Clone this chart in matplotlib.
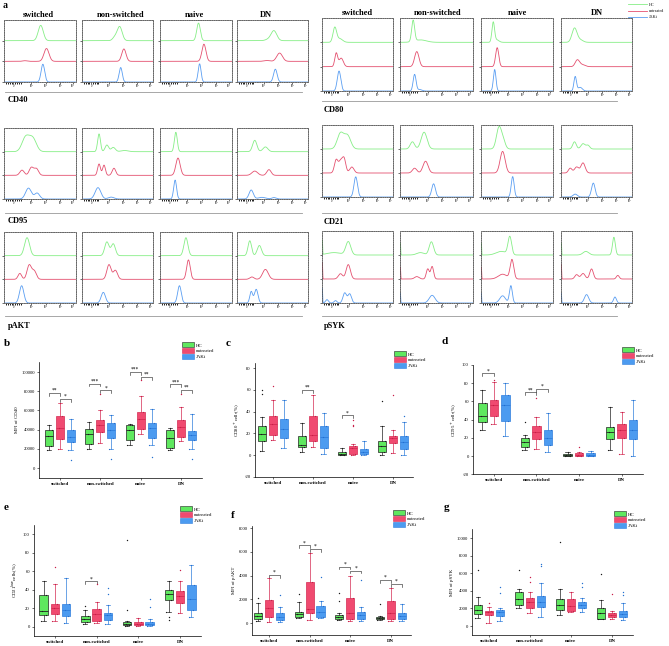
import numpy as np
import matplotlib
matplotlib.use('Agg')
import matplotlib.pyplot as plt
from matplotlib.patches import Patch
from matplotlib.lines import Line2D

plt.rcParams['font.family'] = ['Liberation Serif', 'DejaVu Serif']

W, H = 669, 646

subsets = ['switched', 'non-switched', 'naive', 'DN']
groups = ['HC', 'untreated', 'JAKi']

# ---- histogram peaks: (centre, height, width) per curve, order HC, untreated, JAKi
peaks_cd40 = [
    [[(0.51, 0.74, 0.035)], [(0.59, 0.62, 0.035), (0.29, 0.03, 0.03)], [(0.54, 0.86, 0.025)]],
    [[(0.53, 0.68, 0.035), (0.46, 0.15, 0.03)], [(0.59, 0.6, 0.03)], [(0.545, 0.7, 0.022)]],
    [[(0.535, 0.85, 0.025)], [(0.61, 0.83, 0.028)], [(0.55, 0.88, 0.02)]],
    [[(0.52, 0.48, 0.04), (0.44, 0.06, 0.04)], [(0.6, 0.4, 0.04), (0.42, 0.04, 0.04)], [(0.54, 0.62, 0.025)]],
]
peaks_cd95 = [
    [[(0.3, 0.6, 0.05), (0.4, 0.55, 0.05)], [(0.25, 0.22, 0.03), (0.38, 0.33, 0.03), (0.45, 0.28, 0.03)],
     [(0.34, 0.46, 0.04), (0.46, 0.25, 0.035)]],
    [[(0.24, 0.75, 0.02), (0.35, 0.28, 0.025), (0.44, 0.18, 0.03), (0.6, 0.05, 0.05)],
     [(0.24, 0.48, 0.02), (0.31, 0.43, 0.02), (0.45, 0.3, 0.025)], [(0.225, 0.48, 0.04), (0.41, 0.08, 0.04)]],
    [[(0.22, 0.82, 0.02)], [(0.25, 0.73, 0.03)], [(0.21, 0.8, 0.02)]],
    [[(0.25, 0.48, 0.03), (0.4, 0.2, 0.035)], [(0.25, 0.18, 0.04), (0.45, 0.24, 0.03)],
     [(0.2, 0.38, 0.03), (0.35, 0.07, 0.05), (0.52, 0.06, 0.03)]],
]
peaks_pakt = [
    [[(0.32, 0.76, 0.035)], [(0.22, 0.25, 0.025), (0.35, 0.6, 0.03), (0.42, 0.35, 0.03)], [(0.245, 0.73, 0.03)]],
    [[(0.35, 0.58, 0.03), (0.44, 0.5, 0.03)], [(0.38, 0.62, 0.03), (0.47, 0.38, 0.03)], [(0.3, 0.45, 0.03)]],
    [[(0.36, 0.76, 0.028)], [(0.395, 0.82, 0.025)], [(0.27, 0.73, 0.025)]],
    [[(0.18, 0.63, 0.025), (0.315, 0.43, 0.03)], [(0.21, 0.1, 0.03), (0.4, 0.42, 0.04)],
     [(0.2, 0.48, 0.02), (0.27, 0.58, 0.025)]],
]
peaks_cd80 = [
    [[(0.18, 0.6, 0.025), (0.25, 0.15, 0.04)], [(0.2, 0.55, 0.02), (0.27, 0.35, 0.03)], [(0.24, 0.82, 0.025)]],
    [[(0.18, 0.87, 0.02), (0.28, 0.1, 0.08)], [(0.23, 0.62, 0.03)], [(0.2, 0.68, 0.02), (0.27, 0.06, 0.03)]],
    [[(0.17, 0.82, 0.018), (0.22, 0.1, 0.03)], [(0.225, 0.78, 0.022)], [(0.19, 0.88, 0.018)]],
    [[(0.19, 0.58, 0.035), (0.27, 0.1, 0.04)], [(0.23, 0.27, 0.03), (0.3, 0.08, 0.04)],
     [(0.2, 0.59, 0.018), (0.27, 0.15, 0.03)]],
]
peaks_cd21 = [
    [[(0.26, 0.65, 0.045), (0.36, 0.55, 0.045)], [(0.2, 0.55, 0.025), (0.26, 0.45, 0.025), (0.31, 0.6, 0.025),
                                                  (0.42, 0.25, 0.03)], [(0.475, 0.84, 0.025)]],
    [[(0.17, 0.3, 0.03), (0.33, 0.7, 0.04)], [(0.2, 0.2, 0.03), (0.35, 0.49, 0.035)], [(0.46, 0.55, 0.025)]],
    [[(0.25, 0.9, 0.035), (0.31, 0.3, 0.03)], [(0.3, 0.9, 0.035)], [(0.44, 0.85, 0.02)]],
    [[(0.19, 0.3, 0.025), (0.31, 0.22, 0.03), (0.38, 0.15, 0.025)],
     [(0.13, 0.2, 0.025), (0.22, 0.25, 0.03), (0.31, 0.42, 0.03)], [(0.2, 0.12, 0.03), (0.455, 0.58, 0.025)]],
]
peaks_psyk = [
    [[(0.005, 0.6, 0.004), (0.17, 0.1, 0.1), (0.37, 0.55, 0.035)],
     [(0.005, 0.7, 0.004), (0.26, 0.22, 0.03), (0.37, 0.6, 0.03)],
     [(0.005, 0.6, 0.004), (0.07, 0.14, 0.02), (0.19, 0.1, 0.02), (0.32, 0.42, 0.025), (0.39, 0.38, 0.025)]],
    [[(0.005, 0.5, 0.004), (0.28, 0.1, 0.05), (0.43, 0.55, 0.03)],
     [(0.005, 0.5, 0.004), (0.23, 0.1, 0.03), (0.38, 0.42, 0.02), (0.44, 0.52, 0.02)],
     [(0.005, 0.4, 0.004), (0.44, 0.32, 0.04)]],
    [[(0.005, 0.5, 0.004), (0.28, 0.15, 0.07), (0.4, 0.75, 0.025)],
     [(0.005, 0.5, 0.004), (0.3, 0.2, 0.06), (0.43, 0.8, 0.025)],
     [(0.005, 0.4, 0.004), (0.3, 0.3, 0.04), (0.415, 0.72, 0.02)]],
    [[(0.005, 0.5, 0.004), (0.35, 0.15, 0.04), (0.745, 0.74, 0.02)],
     [(0.005, 0.6, 0.004), (0.22, 0.18, 0.025), (0.31, 0.23, 0.03), (0.43, 0.42, 0.025), (0.8, 0.15, 0.02)],
     [(0.005, 0.4, 0.004), (0.36, 0.35, 0.03), (0.76, 0.25, 0.02)]],
]

# ---- box panels: (whisker low, q1, median, q3, whisker high) per subset x group
b_stats = [
    [(18400, 23300, 33000, 40000, 44500), (20200, 30300, 41700, 54000, 67800), (18400, 26800, 32300, 40000, 51500)],
    [(20200, 25400, 35800, 40300, 48000), (26400, 37200, 44500, 50400, 60000), (20200, 31700, 39300, 47300, 55000)],
    [(23700, 29600, 40000, 44500, 45600), (35800, 41000, 51500, 58400, 74800), (23700, 31700, 42000, 47300, 61900)],
    [(18400, 21200, 31700, 39300, 42000), (27800, 32300, 42800, 50400, 63700), (19500, 29600, 34100, 38300, 56700)],
]
b_out = [(0, 2, 8000), (1, 1, 77000), (1, 2, 9700), (2, 1, 92000), (2, 2, 11000), (3, 1, 77500), (3, 2, 9700)]
b_sig = [(0, 0, 1, 78000, '**'), (0, 1, 2, 72000, '*'), (1, 0, 1, 88000, '***'), (1, 1, 2, 81000, '*'),
         (2, 0, 1, 100000, '***'), (2, 1, 2, 95000, '**'), (3, 0, 1, 87000, '***'), (3, 1, 2, 81500, '**')]

c_stats = [
    [(3.4, 12.6, 19.7, 27, 35), (14, 18.8, 29, 36.3, 51), (6.5, 15.7, 24, 33.5, 51)],
    [(2.8, 7.4, 9.5, 17.8, 29.5), (7.4, 12.6, 18.8, 36.3, 55.7), (1, 6.5, 16.6, 27, 38.8)],
    [(0, 0, 1.2, 3, 6.5), (0.3, 1.2, 6.5, 8, 10.5), (0, 0.6, 2.5, 5.8, 12.6)],
    [(0, 2.5, 8, 12.6, 26.5), (1.8, 11, 15.7, 17.8, 23.4), (0, 5.8, 11.7, 17.8, 30)],
]
c_out = [(0, 0, 60), (0, 0, 56), (0, 1, 64), (2, 1, 28), (2, 1, 26.5), (2, 1, 32.6), (3, 0, 50), (3, 1, 55.7),
         (3, 2, 35.7)]
c_sig = [(1, 0, 1, 60, '**'), (2, 0, 1, 36.6, '*')]

d_stats = [
    [(28.6, 37.8, 44, 58, 72), (34.9, 44, 56, 61.7, 81.8), (22, 39, 56, 67, 80)],
    [(6.6, 10.3, 15.8, 19.4, 23), (7.3, 18.3, 26.8, 33, 42.6), (4.8, 12, 19.4, 28.6, 47)],
    [(0, 0, 1.1, 2.2, 4.8), (0, 0, 1.5, 3.7, 4.8), (0, 0, 1.5, 3.7, 5.5)],
    [(6.6, 18.3, 26.8, 32.3, 53.6), (2.2, 19.4, 28.6, 34.9, 48.8), (0, 18.3, 28.6, 39.6, 61.7)],
]
d_out = [(0, 1, 84), (1, 0, 37.8), (1, 1, 63.5), (2, 1, 9.5)]
d_sig = [(0, 0, 1, 91, '*'), (1, 0, 1, 70, '**'), (1, 1, 2, 73.8, '*')]

e_stats = [
    [(6, 12.6, 16.8, 34, 49), (6, 14, 20, 25, 46), (4.3, 12, 18, 25, 53)],
    [(3.6, 5.4, 8.6, 12.3, 18), (4.3, 6.8, 14.4, 19.8, 27), (3.2, 7.2, 12.6, 15.5, 24)],
    [(0.7, 1.8, 3.2, 5, 6), (0.7, 1.8, 3.6, 5.4, 9.7), (0.7, 1.8, 3.6, 5.8, 8.6)],
    [(15.8, 28.8, 35, 39.6, 49), (15, 26, 33, 39, 49), (10.8, 18, 30.6, 45, 66.7)],
]
e_out = [(0, 1, 65), (1, 0, 23), (1, 1, 45.8), (1, 2, 42), (1, 2, 35), (2, 0, 94), (2, 0, 18), (2, 2, 30.6),
         (2, 2, 22), (3, 0, 10.5), (3, 0, 8), (3, 1, 61)]
e_sig = [(1, 0, 1, 49, '*')]

f_stats = [
    [(200, 340, 645, 840, 1680), (110, 560, 1260, 1960, 3840), (140, 280, 560, 840, 1400)],
    [(420, 560, 785, 980, 1820), (280, 840, 1180, 3500, 5890), (420, 560, 980, 1460, 1880)],
    [(280, 365, 560, 700, 840), (225, 365, 840, 2100, 3980), (200, 365, 700, 980, 1350)],
    [(280, 365, 480, 560, 620), (225, 365, 840, 1900, 3000), (200, 365, 620, 900, 1600)],
]
f_out = [(0, 0, 2100), (0, 2, 2380), (1, 0, 2470), (1, 2, 3930), (2, 0, 2580), (2, 0, 1900), (2, 2, 3650),
         (3, 0, 1630)]
f_sig = [(0, 1, 2, 4070, '*'), (1, 0, 1, 6560, '*'), (1, 1, 2, 6230, '*'), (2, 0, 1, 4770, '*'),
         (2, 1, 2, 4430, '*'), (3, 0, 1, 3650, '*'), (3, 1, 2, 3310, '*')]

g_stats = [
    [(870, 1360, 1810, 2380, 3250), (300, 1250, 1550, 1740, 2110), (570, 1170, 1550, 1810, 2080)],
    [(2000, 2380, 3020, 3890, 4260), (1510, 2000, 2680, 3210, 3890), (1060, 2190, 2750, 3400, 4830)],
    [(1250, 1810, 2380, 3020, 4260), (1620, 1740, 2300, 3020, 3890), (1550, 2000, 2380, 2680, 3130)],
    [(790, 790, 1430, 2080, 2940), (750, 980, 1250, 1510, 1740), (680, 980, 1360, 1740, 2570)],
]
g_out = [(0, 0, 6400), (0, 1, 2640), (0, 2, 4450), (0, 2, 3700), (1, 0, 6340), (1, 1, 5580), (1, 1, 5020),
         (1, 2, 7090), (1, 2, 6790), (2, 0, 9550), (2, 2, 4830), (2, 2, 4450), (3, 0, 5960), (3, 1, 3620),
         (3, 2, 3890), (3, 2, 3510)]
g_sig = []

hist_col = ['#86EE86', '#E4506F', '#5A9EF2']
box_face = ['#5FE85F', '#F04A70', '#4C9BF0']
box_edge = ['#222222', '#D42A52', '#2F7EDC']
dot_col = ['#1A1A1A', '#C81E48', '#2470D0']

fig = plt.figure(figsize=(W / 100, H / 100), dpi=100)


def px_axes(x0, y0, x1, y1):
    return fig.add_axes([x0 / W, 1 - y1 / H, (x1 - x0) / W, (y1 - y0) / H])


def px_text(x, y, s, **kw):
    fig.text(x / W, 1 - y / H, s, **kw)


# ---------------- panel a: histograms ----------------
xs = np.linspace(0, 1, 400)


def curve(peaks):
    y = np.zeros_like(xs)
    for c, h, s in peaks:
        y += h * np.exp(-0.5 * ((xs - c) / s) ** 2)
    return y


def hist_box(rect, peaks, ylow=0.0):
    ax = px_axes(*rect)
    for gi, base in enumerate([2, 1, 0]):
        ax.plot(xs, base + curve(peaks[gi]), color=hist_col[gi], lw=0.6)
    ax.set_xlim(0, 1)
    ax.set_ylim(ylow, 3)
    ax.set_yticks([0, 1, 2])
    ax.set_yticklabels([])
    ax.set_xticks([0.13, 0.38, 0.58, 0.78, 0.96])
    ax.set_xticklabels(['0', '10³', '10⁴', '10⁵', '10⁶'], fontsize=2)
    ax.set_xticks(np.arange(0.03, 0.25, 0.025), minor=True)
    ax.tick_params(axis='both', length=1.2, width=0.4, pad=0.3, direction='out')
    ax.tick_params(axis='x', which='minor', length=1.2, width=0.6)
    for sp in ax.spines.values():
        sp.set_linewidth(0.5)
        sp.set_color('#555555')
        sp.set_linestyle((0, (2, 0.6)))


left_x = [(4, 76), (82, 153), (160, 232), (237, 308)]
right_x = [(322, 393), (400, 473), (481, 553), (561, 632)]
left_rows = [((20, 82), 0.42, peaks_cd40), ((128, 199), 0.0, peaks_cd95), ((232, 303), 0.0, peaks_pakt)]
right_rows = [((18, 91), 0.0, peaks_cd80), ((125, 197), 0.0, peaks_cd21), ((231, 303), 0.0, peaks_psyk)]

for (y0, y1), ylow, pk in left_rows:
    for si, (x0, x1) in enumerate(left_x):
        hist_box((x0, y0, x1, y1), pk[si], ylow)
for (y0, y1), ylow, pk in right_rows:
    for si, (x0, x1) in enumerate(right_x):
        hist_box((x0, y0, x1, y1), pk[si], ylow)

title_kw = dict(fontsize=6, fontweight='bold', ha='center', va='center')
for si, xc in enumerate([38, 121, 194, 266]):
    px_text(xc, 15, subsets[si], **title_kw)
for si, xc in enumerate([357, 438, 517, 597]):
    px_text(xc, 13, subsets[si], **title_kw)

lab_kw = dict(fontsize=6, fontweight='bold', ha='left', va='center')
for name, y in [('CD40', 100), ('CD95', 221), ('pAKT', 326)]:
    px_text(8, y, name, **lab_kw)
for name, y in [('CD80', 110), ('CD21', 222), ('pSYK', 326)]:
    px_text(324, y, name, **lab_kw)

for y, xa, xb in [(92, 5, 302), (213, 5, 302), (316, 5, 302), (101, 322, 617), (213, 322, 617), (316, 322, 617)]:
    fig.add_artist(Line2D([xa / W, xb / W], [1 - y / H, 1 - y / H], color='#999999', lw=0.6))

px_text(3, 5, 'a', fontsize=7, fontweight='bold', ha='left', va='center')

fig.legend(handles=[Line2D([], [], color=hist_col[i], lw=0.6) for i in range(3)], labels=groups,
           loc='upper left', bbox_to_anchor=(625 / W, 1 - 0 / H), frameon=False, fontsize=3,
           handlelength=4.5, handletextpad=0.6, labelspacing=0.5, borderpad=0.2)

# ---------------- panels b-g: box plots ----------------
offs = [-0.27, 0.0, 0.27]
jit = [-0.06, 0.05, -0.03, 0.06, 0.0]


def box_panel(rect, xlim, ylim, yticks, ylabel, stats, outs, sigs, letter, leg):
    ax = px_axes(*rect)
    for si in range(4):
        for gi in range(3):
            lo, q1, med, q3, hi = stats[si][gi]
            pos = si + 1 + offs[gi]
            ax.bxp([dict(whislo=lo, q1=q1, med=med, q3=q3, whishi=hi, fliers=[])], positions=[pos],
                   widths=0.2, patch_artist=True, showfliers=False,
                   boxprops=dict(facecolor=box_face[gi], edgecolor=box_edge[gi], lw=0.5),
                   medianprops=dict(color=box_edge[gi], lw=0.6),
                   whiskerprops=dict(color=box_edge[gi], lw=0.5),
                   capprops=dict(color=box_edge[gi], lw=0.5), capwidths=0.1)
            vals = stats[si][gi]
            ax.scatter([pos + j for j in jit], vals, s=0.8, color=dot_col[gi], lw=0, zorder=5)
    for si, gi, v in outs:
        ax.scatter([si + 1 + offs[gi]], [v], s=1.0, color=dot_col[gi], lw=0, zorder=5)
    rng = ylim[1] - ylim[0]
    for si, g1, g2, y, lab in sigs:
        xa = si + 1 + offs[g1]
        xb = si + 1 + offs[g2]
        ax.plot([xa, xa, xb, xb], [y - 0.025 * rng, y, y, y - 0.025 * rng], color='#333333', lw=0.45)
        ax.text((xa + xb) / 2, y, lab, ha='center', va='bottom', fontsize=4)
    ax.set_xlim(*xlim)
    ax.set_ylim(*ylim)
    ax.set_yticks(yticks)
    ax.set_yticklabels([str(t) for t in yticks], fontsize=3.3)
    ax.set_xticks([1, 2, 3, 4])
    ax.set_xticklabels(subsets, fontsize=3.5, fontweight='bold')
    ax.tick_params(length=1.5, width=0.4, pad=1.5)
    ax.set_ylabel(ylabel, fontsize=3.5, labelpad=2)
    for s in ['top', 'right']:
        ax.spines[s].set_visible(False)
    for s in ['left', 'bottom']:
        ax.spines[s].set_linewidth(0.5)
    px_text(letter[0], letter[1], letter[2], fontsize=8, fontweight='bold', ha='left', va='center')
    fig.legend(handles=[Patch(facecolor=box_face[i], edgecolor=box_edge[i], lw=0.4) for i in range(3)],
               labels=groups, loc='upper left', bbox_to_anchor=(leg[0] / W, 1 - leg[1] / H), frameon=False,
               fontsize=3.5, handlelength=2.4, handleheight=1.2, labelspacing=0.1, borderpad=0,
               handletextpad=0.3)
    return ax


box_panel((39, 362.4, 202, 477.6), (0.48, 4.52), (-10000, 110000), list(range(0, 100001, 20000)),
          'MFI of CD40', b_stats, b_out, b_sig, (4, 343, 'b'), (180, 340))
box_panel((255, 362.8, 413, 476.7), (0.55, 4.5), (-20, 85), list(range(-20, 81, 20)),
          'CD80$^+$cells(%)', c_stats, c_out, c_sig, (226, 343, 'c'), (392, 349))
box_panel((473, 365, 643, 474.2), (0.51, 4.5), (-20, 100), list(range(-20, 101, 20)),
          'CD95$^+$cells(%)', d_stats, d_out, d_sig, (441, 342, 'd'), (620, 345))
box_panel((34, 524.7, 201, 636.3), (0.5, 4.5), (-10, 110), list(range(0, 101, 20)),
          'CD21$^{low}$cells(%)', e_stats, e_out, e_sig, (4, 507, 'e'), (178, 504))
box_panel((252, 525.7, 411, 635.2), (0.58, 4.5), (-1000, 8200), list(range(0, 8001, 2000)),
          'MFI of pAKT', f_stats, f_out, f_sig, (231, 515, 'f'), (391, 508))
box_panel((472, 529.2, 632.5, 634.8), (0.59, 4.5), (-1000, 11000), list(range(0, 10001, 2000)),
          'MFI of pSYK', g_stats, g_out, g_sig, (444, 508, 'g'), (612, 509))

fig.savefig('out.png', dpi=100)
